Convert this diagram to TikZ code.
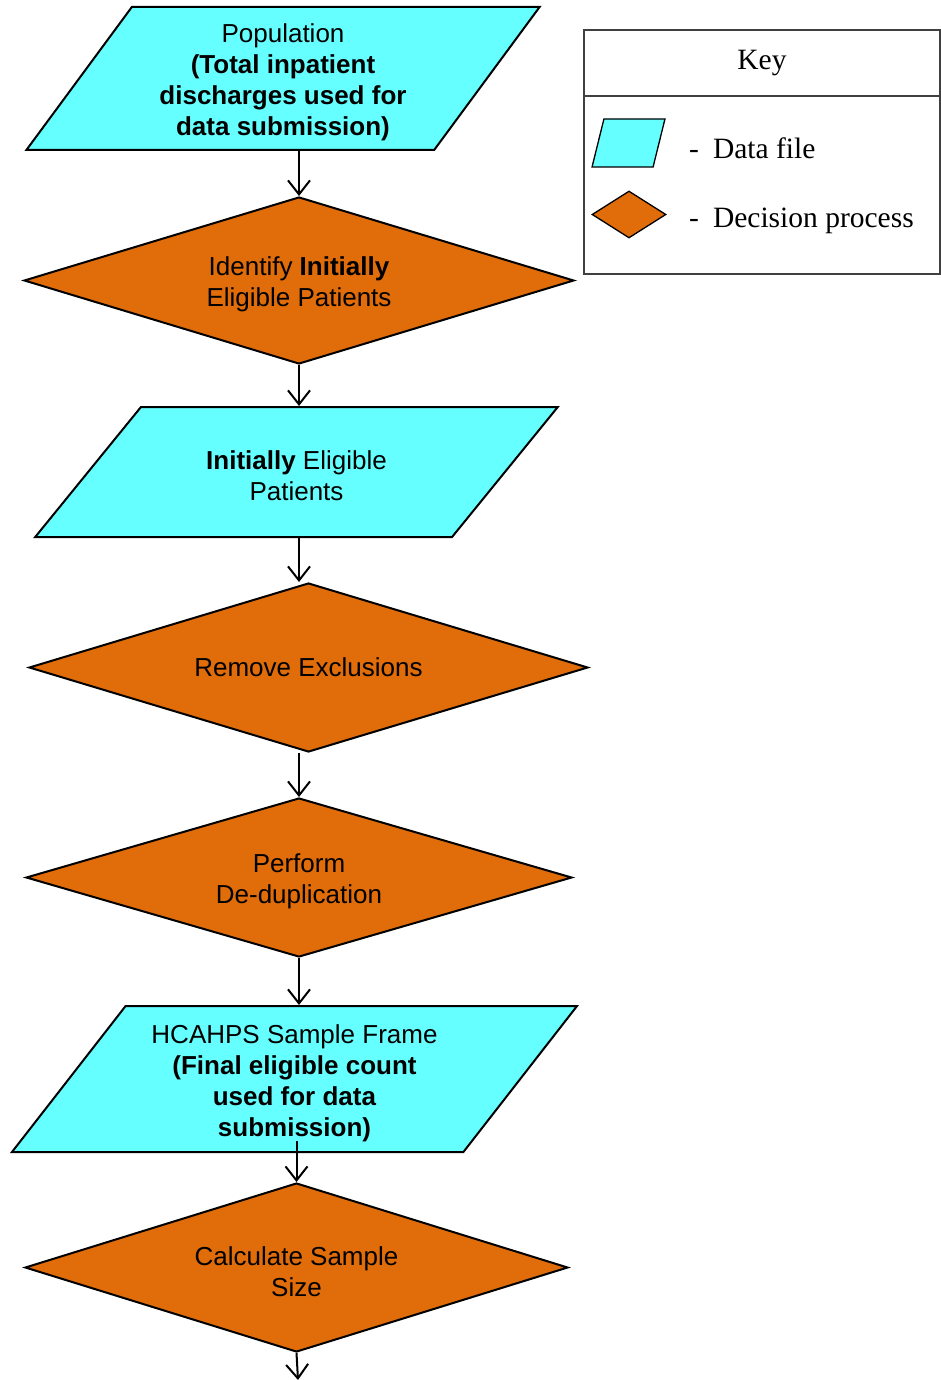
\documentclass[tikz,border=0pt]{standalone}
\usepackage{fontspec}
\setmainfont{Liberation Serif}
\setsansfont{Liberation Sans}
\usetikzlibrary{shapes.geometric,arrows.meta}
\definecolor{datacyan}{RGB}{102,255,255}
\definecolor{procorange}{RGB}{224,108,10}
\newcommand{\lowstrut}{\rule{0pt}{27pt}}
\tikzset{
  datafile/.style={trapezium,draw,fill=datacyan,line width=2pt,inner sep=0pt,
    trapezium stretches=true,align=center,font=\sffamily\fontsize{26}{31}\selectfont},
  decision/.style={diamond,draw,fill=procorange,line width=2pt,inner sep=0pt,
    shape aspect=3.3,align=center,font=\sffamily\fontsize{26}{31}\selectfont},
  flow/.style={line width=2pt,-{Straight Barb[length=14pt,width=22pt,line width=2pt]}},
  keycell/.style={rectangle,draw=black!75,line width=1.3pt,minimum width=356pt,inner sep=0pt}
}
\begin{document}
\begin{tikzpicture}[x=1pt,y=-1pt]
\useasboundingbox (0,0) rectangle (941,1380);
% flow chart
\node at (283,78.5) [datafile,trapezium left angle=55.5,trapezium right angle=124.5,minimum width=514pt,minimum height=143pt] (pop) {\lowstrut Population\\\textbf{(Total inpatient}\\\textbf{discharges used for}\\\textbf{data submission)}};
\node at (299,280.5) [decision,minimum width=550pt,minimum height=167pt] (ident) {\lowstrut Identify \textbf{Initially}\\Eligible Patients};
\node at (296.5,472) [datafile,trapezium left angle=43.5,trapezium right angle=136.5,minimum width=525pt,minimum height=130pt] (init) {\lowstrut\textbf{Initially} Eligible\\Patients};
\node at (308.5,667.5) [decision,minimum width=559pt,minimum height=169pt] (excl) {Remove Exclusions};
\node at (299,877.5) [decision,minimum width=546pt,minimum height=159pt] (dedup) {\lowstrut Perform\\De-duplication};
\node at (294.5,1079) [datafile,trapezium left angle=52.5,trapezium right angle=127.5,minimum width=569pt,minimum height=146pt] (frame) {\lowstrut HCAHPS Sample Frame\\\textbf{(Final eligible count}\\\textbf{used for data}\\\textbf{submission)}};
\node at (296.5,1267.5) [decision,minimum width=543pt,minimum height=169pt] (calc) {\lowstrut Calculate Sample\\Size};
\coordinate (out) at (298,1380);
\draw[flow] (pop.south -| ident.north) -- (ident.north);
\draw[flow] (ident.south) -- (ident.south |- init.north);
\draw[flow] (init.south -| ident.south) -- (excl.north -| ident.south);
\draw[flow] (excl.south -| dedup.north) -- (dedup.north);
\draw[flow] (dedup.south) -- (dedup.south |- frame.north);
\draw[flow] ([yshift=12pt]frame.south -| calc.north) -- (calc.north);
\draw[flow] (calc.south) -- (out);
% key
\node at (762,63) [keycell,minimum height=66pt,font=\fontsize{29.5}{33}\selectfont] (keyhead) {Key};
\node at (762,185) [keycell,minimum height=178pt] (keybody) {};
\node at (628.5,143) [datafile,line width=1.3pt,trapezium left angle=73.7,trapezium right angle=106.3,minimum width=73pt,minimum height=48pt] (keydata) {\phantom{M}};
\node at (629,214.5) [decision,line width=1.3pt,minimum width=74pt,minimum height=47pt] (keydec) {};
\node at (689,148) [anchor=west,inner sep=0pt,font=\fontsize{29.5}{33}\selectfont] (keydatatxt) {-\hspace{14pt}Data file};
\node at (689,221) [anchor=west,inner sep=0pt,font=\fontsize{29.5}{33}\selectfont] (keydectxt) {-\hspace{14pt}Decision process};
\end{tikzpicture}
\end{document}
